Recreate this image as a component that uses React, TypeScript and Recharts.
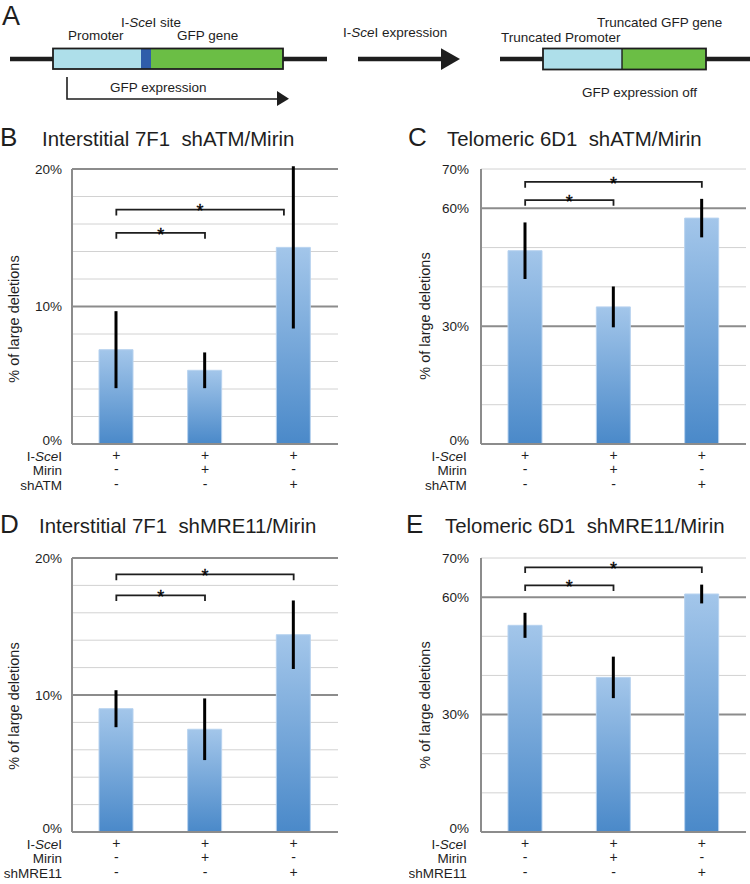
import React from 'react';
import { BarChart, Bar, XAxis, YAxis, CartesianGrid, ErrorBar, ReferenceLine } from 'recharts';

const FONT = '"Liberation Sans", Arial, Helvetica, sans-serif';
const INK = '#1e1e1e';

// ---- data ----
const categories = ['control', 'mirin', 'knockdown'];
const iSceIRow = ['+', '+', '+'];
const mirinRow = ['-', '+', '-'];
const shRow = ['-', '-', '+'];

const valuesB = [6.86, 5.36, 14.3];
const errorsB = [2.8, 1.3, 5.9];
const valuesC = [49.2, 34.9, 57.5];
const errorsC = [7.2, 5.2, 4.9];
const valuesD = [9.0, 7.5, 14.4];
const errorsD = [1.35, 2.25, 2.5];
const valuesE = [52.8, 39.5, 60.8];
const errorsE = [3.2, 5.3, 2.4];

const ticks20 = [0, 10, 20];
const minor20 = [2, 4, 6, 8, 12, 14, 16, 18];
const major20 = [10, 20];
const ticks70 = [0, 30, 60, 70];
const minor70 = [10, 20, 40, 50, 70];
const major70 = [30, 60];

type Bracket = { from: number; to: number; y: number };
const bracketsB: Bracket[] = [{ from: 0, to: 1, y: 15.35 }, { from: 0, to: 1.89, y: 17.04 }];
const bracketsC: Bracket[] = [{ from: 0, to: 1, y: 62.1 }, { from: 0, to: 2, y: 66.7 }];
const bracketsD: Bracket[] = [{ from: 0, to: 1, y: 17.27 }, { from: 0, to: 2, y: 18.8 }];
const bracketsE: Bracket[] = [{ from: 0, to: 1, y: 63.0 }, { from: 0, to: 2, y: 67.6 }];

const rowLabelsATM = ['I-SceI', 'Mirin', 'shATM'];
const rowLabelsMRE = ['I-SceI', 'Mirin', 'shMRE11'];

const rowBaselines = [16.6, 31, 45.6];

const BracketShape = (props: any) => {
  const { x1, y1, x2 } = props;
  const a = Math.min(x1, x2);
  const b = Math.max(x1, x2);
  const drop = 5.7;
  return (
    <g>
      <path d={`M${a},${y1 + drop}V${y1}H${b}V${y1 + drop}`} fill="none" stroke={INK} strokeWidth={1.8} />
      <text x={(a + b) / 2} y={y1 + 7.6} textAnchor="middle" fontSize={18} fontFamily={FONT} fill="#000" stroke="#000" strokeWidth={0.3}>*</text>
    </g>
  );
};

const LabelText = ({ label, x, y }: { label: string; x: number; y: number }) => {
  if (label === 'I-SceI') {
    return (
      <text x={x} y={y} textAnchor="end" fontSize={13.5} fontFamily={FONT} fill={INK}>
        <tspan>I-</tspan>
        <tspan fontStyle="italic">Sce</tspan>
        <tspan>I</tspan>
      </text>
    );
  }
  return (
    <text x={x} y={y} textAnchor="end" fontSize={13.5} fontFamily={FONT} fill={INK}>{label}</text>
  );
};

const RowTick = (props: any) => {
  const { x, y, payload, rowLabelX, rowLabels } = props;
  const i = categories.indexOf(payload.value);
  const rows = [iSceIRow, mirinRow, shRow];
  return (
    <g>
      {rows.map((r, k) => (
        <text key={k} x={x} y={y + rowBaselines[k] - 1} textAnchor="middle" fontSize={14} fontFamily={FONT} fill={INK}>
          {r[i]}
        </text>
      ))}
      {i === 0 && rowLabels.map((l: string, k: number) => (
        <LabelText key={'l' + k} label={l} x={rowLabelX} y={y + rowBaselines[k]} />
      ))}
    </g>
  );
};

const YTick = (props: any) => {
  const { x, y, payload } = props;
  const shift = payload.value === 0 ? -4 : 0;
  return (
    <text x={x} y={y + shift + 4.8} textAnchor="end" fontSize={13.5} fontFamily={FONT} fill={INK}>
      {`${payload.value}%`}
    </text>
  );
};

type PanelProps = {
  id: string;
  left: number;
  top: number;
  width: number;
  height: number;
  margin: { top: number; right: number; bottom: number; left: number };
  xAxisHeight: number;
  tickGap: number;
  values: number[];
  errors: number[];
  domainMax: number;
  ticks: number[];
  minor: number[];
  major: number[];
  brackets: Bracket[];
  rowLabels: string[];
  rowLabelX: number;
};

const Panel = (p: PanelProps) => {
  const data = categories.map((c, i) => ({ cat: c, idx: i, value: p.values[i], err: p.errors[i] }));
  const gid = 'grad' + p.id;
  return (
    <div style={{ position: 'absolute', left: p.left, top: p.top }}>
      <BarChart width={p.width} height={p.height} data={data} margin={p.margin}>
        <defs>
          <linearGradient id={gid} x1="0" y1="0" x2="0" y2="1">
            <stop offset="0%" stopColor="#A3C6EA" />
            <stop offset="100%" stopColor="#4A89C9" />
          </linearGradient>
        </defs>
        <CartesianGrid vertical={false} horizontalValues={p.minor} stroke="#d2d2d2" strokeWidth={1} />
        <CartesianGrid vertical={false} horizontalValues={p.major} stroke="#8c8c8c" strokeWidth={2} />
        <XAxis
          dataKey="cat"
          height={p.xAxisHeight}
          tickSize={0}
          tickMargin={0}
          tickLine={false}
          axisLine={{ stroke: '#8c8c8c', strokeWidth: 2 }}
          interval={0}
          tick={(tp: any) => <RowTick {...tp} rowLabelX={p.rowLabelX} rowLabels={p.rowLabels} />}
        />
        <XAxis xAxisId="n" type="number" dataKey="idx" domain={[-0.5, 2.5]} allowDataOverflow hide />
        <YAxis
          width={72}
          domain={[0, p.domainMax]}
          allowDataOverflow
          ticks={p.ticks}
          interval={0}
          tickSize={0}
          tickMargin={p.tickGap}
          tickLine={false}
          axisLine={{ stroke: '#8c8c8c', strokeWidth: 2 }}
          tick={(tp: any) => <YTick {...tp} />}
        />
        <Bar dataKey="value" barSize={34} fill={`url(#${gid})`} stroke="#b7d2ef" strokeWidth={1} isAnimationActive={false}>
          <ErrorBar dataKey="err" width={0} stroke="#000" strokeWidth={3} direction="y" isAnimationActive={false} />
        </Bar>
        {p.brackets.map((b, k) => (
          <ReferenceLine
            key={k}
            xAxisId="n"
            segment={[{ x: b.from, y: b.y }, { x: b.to, y: b.y }]}
            shape={(sp: any) => <BracketShape {...sp} />}
          />
        ))}
      </BarChart>
    </div>
  );
};

const T = (props: any) => <text fontFamily={FONT} fill={INK} {...props} />;

const Diagram = () => (
  <svg width={750} height={884} style={{ position: 'absolute', left: 0, top: 0 }}>
    <T x={2} y={25} fontSize={27}>A</T>
    {/* intact construct */}
    <line x1={10} y1={59} x2={53} y2={59} stroke={INK} strokeWidth={4.5} />
    <line x1={283} y1={59} x2={327} y2={59} stroke={INK} strokeWidth={4.5} />
    <rect x={53} y={48.5} width={88} height={20.5} fill="#AEDFEA" />
    <rect x={141} y={48.5} width={10} height={20.5} fill="#2F5DAA" />
    <rect x={151} y={48.5} width={132} height={20.5} fill="#6BBE45" />
    <rect x={53} y={48.5} width={230} height={20.5} fill="none" stroke={INK} strokeWidth={1.8} />
    <T x={121} y={26.7} fontSize={13.5}>
      <tspan>I-</tspan><tspan fontStyle="italic">Sce</tspan><tspan>I site</tspan>
    </T>
    <T x={68} y={40} fontSize={13.5}>Promoter</T>
    <T x={177} y={40} fontSize={13.5}>GFP gene</T>
    <path d="M67,77V99H278" fill="none" stroke={INK} strokeWidth={1.6} />
    <path d="M277,91L289,98.8L277,106Z" fill={INK} />
    <T x={110} y={92} fontSize={13.5}>GFP expression</T>
    {/* middle arrow */}
    <T x={343} y={37} fontSize={13.5}>
      <tspan>I-</tspan><tspan fontStyle="italic">Sce</tspan><tspan>I expression</tspan>
    </T>
    <line x1={358} y1={59} x2={443} y2={59} stroke={INK} strokeWidth={4.5} />
    <path d="M441,48.3L460,59L441,70Z" fill={INK} />
    {/* truncated construct */}
    <line x1={500} y1={59} x2={543} y2={59} stroke={INK} strokeWidth={4.5} />
    <line x1={706} y1={59} x2={750} y2={59} stroke={INK} strokeWidth={4.5} />
    <rect x={543} y={48.5} width={79} height={21} fill="#AEDFEA" />
    <rect x={622} y={48.5} width={84} height={21} fill="#6BBE45" />
    <rect x={543} y={48.5} width={163} height={21} fill="none" stroke={INK} strokeWidth={1.8} />
    <line x1={622} y1={48.5} x2={622} y2={69.5} stroke={INK} strokeWidth={1.4} />
    <T x={501} y={41.5} fontSize={13.5}>Truncated Promoter</T>
    <T x={597} y={26.7} fontSize={13.5}>Truncated GFP gene</T>
    <T x={582} y={96.7} fontSize={13.5}>GFP expression off</T>

    {/* panel titles */}
    <T x={0} y={146} fontSize={26}>B</T>
    <T x={42} y={146} fontSize={20.4}>Interstitial 7F1{'\u00A0\u00A0'}shATM/Mirin</T>
    <T x={408} y={146} fontSize={26}>C</T>
    <T x={447} y={146} fontSize={20.4}>Telomeric 6D1{'\u00A0\u00A0'}shATM/Mirin</T>
    <T x={0} y={533} fontSize={26}>D</T>
    <T x={39} y={533} fontSize={20.4}>Interstitial 7F1{'\u00A0\u00A0'}shMRE11/Mirin</T>
    <T x={406} y={533} fontSize={26}>E</T>
    <T x={445} y={533} fontSize={20.4}>Telomeric 6D1{'\u00A0\u00A0'}shMRE11/Mirin</T>

    {/* y-axis titles */}
    <T transform="translate(14,319) rotate(-90)" textAnchor="middle" dominantBaseline="central" fontSize={14.5}>% of large deletions</T>
    <T transform="translate(425,316) rotate(-90)" textAnchor="middle" dominantBaseline="central" fontSize={14.5}>% of large deletions</T>
    <T transform="translate(14,706) rotate(-90)" textAnchor="middle" dominantBaseline="central" fontSize={14.5}>% of large deletions</T>
    <T transform="translate(425,705) rotate(-90)" textAnchor="middle" dominantBaseline="central" fontSize={14.5}>% of large deletions</T>
  </svg>
);

export default function App() {
  return (
    <div style={{ position: 'absolute', left: 0, top: 0, width: 750, height: 884, background: '#fff', overflow: 'hidden', fontFamily: FONT }}>
      <Diagram />
      <Panel id="B" left={0} top={150} width={345} height={350}
        margin={{ top: 19, right: 7, bottom: 6, left: 0 }} xAxisHeight={50} tickGap={10}
        values={valuesB} errors={errorsB} domainMax={20} ticks={ticks20} minor={minor20} major={major20}
        brackets={bracketsB} rowLabels={rowLabelsATM} rowLabelX={62} />
      <Panel id="C" left={409} top={150} width={341} height={350}
        margin={{ top: 19, right: 4, bottom: 6, left: 0 }} xAxisHeight={50} tickGap={12}
        values={valuesC} errors={errorsC} domainMax={70} ticks={ticks70} minor={minor70} major={major70}
        brackets={bracketsC} rowLabels={rowLabelsATM} rowLabelX={57.7} />
      <Panel id="D" left={0} top={540} width={345} height={344}
        margin={{ top: 18, right: 7, bottom: 4, left: 0 }} xAxisHeight={48} tickGap={10}
        values={valuesD} errors={errorsD} domainMax={20} ticks={ticks20} minor={minor20} major={major20}
        brackets={bracketsD} rowLabels={rowLabelsMRE} rowLabelX={62} />
      <Panel id="E" left={409} top={540} width={341} height={344}
        margin={{ top: 18, right: 4, bottom: 4, left: 0 }} xAxisHeight={48} tickGap={12}
        values={valuesE} errors={errorsE} domainMax={70} ticks={ticks70} minor={minor70} major={major70}
        brackets={bracketsE} rowLabels={rowLabelsMRE} rowLabelX={57.7} />
    </div>
  );
}
